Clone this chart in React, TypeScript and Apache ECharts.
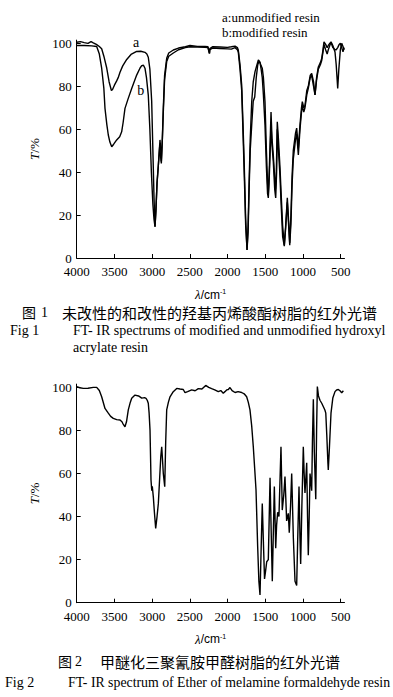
import React, { useEffect, useRef } from "react";
import * as echarts from "echarts";

// ---------- Figure 1 : curve a (unmodified resin) ----------
const wnA = [4000,3950,3900,3850,3810,3780,3740,3700,3669,3640,3602,3570,3540,3525,3500,3470,3450,3426,3390,3337,3280,3205,3150,3095,3070,3051,3030,3006,2990,2975,2962,2950,2935,2918,2905,2896,2885,2878,2865,2852,2835,2807,2780,2719,2650,2560,2498,2400,2300,2260,2245,2240,2235,2200,2100,2000,1950,1901,1870,1858,1835,1813,1795,1778,1760,1742,1728,1716,1700,1680,1660,1636,1610,1592,1575,1555,1540,1525,1504,1485,1470,1460,1448,1435,1424,1410,1394,1380,1365,1355,1341,1325,1305,1290,1270,1248,1230,1208,1195,1176,1160,1145,1129,1100,1084,1062,1040,1020,1009,990,974,950,930,905,885,860,841,820,797,770,752,735,722,700,680,665,645,629,605,576,560,540,525,505,487,470,455];
const tA = [100.5,100.8,100.3,100,100.8,100.2,99.5,98.5,97.5,94,88.5,82,78,78.5,80.5,82.5,84,86.5,89.5,92.5,94.8,96.2,96.3,95.8,95,93.5,88,73,50,28,14.6,22,35,43,50,55,50,45,55,70,85,93,95.5,96.9,97.8,98.4,99,98.6,98.5,98.4,96,95.3,97.5,98.4,98.3,98.1,98.4,98.7,98,96.9,90,80.6,62,42,18,3.7,15,33,55,72.8,82,86.8,90,92.2,91.5,89.5,88.4,84,72.8,50,35,30,40,55,68,55,48,40,32,38,63.5,55,42,30,15,6,15,28,20,7,20,38,50,58,60.5,51,62,70,72.8,70,71,78,80,85,86,82,76,84,89,91,93,97,100.7,99.5,98,99,100,100.7,99,96,90,79,88,97,100,98.5,97];

// ---------- Figure 1 : curve b (modified resin) ----------
const wnB = [4000,3900,3800,3735,3700,3669,3640,3625,3600,3581,3560,3536,3510,3470,3430,3404,3385,3360,3320,3271,3205,3160,3138,3115,3095,3075,3051,3030,3010,2990,2975,2962,2950,2935,2918,2900,2890,2878,2865,2852,2835,2807,2780,2719,2650,2560,2498,2400,2300,2260,2245,2240,2235,2200,2100,2000,1950,1901,1870,1858,1835,1813,1795,1778,1760,1742,1728,1716,1700,1680,1660,1640,1620,1600,1585,1570,1555,1540,1525,1504,1485,1470,1460,1450,1435,1424,1410,1394,1375,1362,1350,1341,1325,1305,1290,1270,1248,1230,1208,1195,1176,1160,1145,1129,1100,1084,1062,1040,1020,1009,990,974,950,930,905,885,860,841,820,797,770,752,735,722,700,680,665,645,629,605,576,560,540,520,505,487,470,455];
const tB = [99,99,98.8,98.5,95,88.4,79,69.7,62,57.3,54,51.8,53,55,56.5,58.8,63,69.7,74,79,85.2,88.5,89.6,89.8,88.4,84,75.9,60,40,25,18,14.6,22,35,43,52,48,44,55,68,83,91.5,94,95.5,97,98,98.4,98.3,98.2,98,95.8,95.3,97,97.8,97.6,97.4,97.3,98,97,96,88,78,58,38,15,3.7,12,30,50,62,73,75,84,90,91.5,91,88,84,76,62,42,30,28,35,50,62,52,45,32,28,40,60,50,38,25,10,5.5,14,26,18,6,16,34,46,55,58,48,60,68,71,68,70,76,79,84,85,80,76,83,88,90,92,96,99.5,97,95,97,99,100.5,98,97,97,98,99.5,100,98,96,98];

// ---------- Figure 2 : etherified melamine formaldehyde resin ----------
const wnC = [4000,3960,3912,3850,3780,3735,3700,3669,3640,3625,3581,3550,3515,3470,3426,3400,3390,3375,3360,3340,3316,3290,3271,3227,3180,3138,3100,3081,3065,3051,3040,3028,3015,3005,2998,2984,2970,2953,2935,2918,2900,2885,2873,2862,2852,2833,2820,2807,2785,2763,2720,2674,2630,2587,2564,2530,2476,2430,2388,2340,2290,2250,2211,2170,2123,2090,2057,2035,2012,1990,1968,1940,1901,1860,1813,1780,1747,1725,1703,1680,1659,1640,1623,1601,1585,1570,1555,1540,1525,1510,1495,1481,1460,1437,1420,1407,1392,1380,1362,1350,1336,1319,1292,1275,1255,1239,1217,1195,1182,1165,1150,1128,1106,1084,1070,1053,1040,1031,1015,996,985,974,962,951,940,930,918,907,895,885,875,863,850,831,820,810,795,775,750,730,710,698,685,670,665,650,629,605,576,555,532,510,487,465];
const tC = [100.3,99.8,99.5,99.6,100,100,98.5,95.6,92,90.2,88,86.5,85.6,85,84.8,84,83.3,82.5,81.7,84,89.5,93,94.9,96.4,96,95,95.2,94.9,94,92.6,88,80,57,52,54,49,42,34.5,40,46,58,68,72.4,66,60,53.9,75,89.5,93,95.6,98,99.5,99.2,99,97.5,98,98.8,98.4,99.4,99.2,100.9,100,99.4,98.8,98,98.5,97.3,98,98.8,99,99.9,98.5,97.6,98,97.6,97,95.6,93,89.5,82,72.4,62,52.3,26,10,3.6,25,46,28,11,15,19,20,58,30,10,35,54,25.3,36,42,40,72.4,43,50,58.6,38,41.5,32.5,45,60,30,10,8,30,54,30,18,45,72.4,60,51,58,65,40,22,40,60,56,52,75,94.5,70,48,80,100.4,96,94,92.5,91,89.5,88,78,65,61.6,72,88,95,98,98.8,99,98.4,97.5,98.4];

// ---------- axis ticks ----------
const xTicks = [4000, 3500, 3000, 2500, 2000, 1500, 1000, 500];
const yTicks = [0, 20, 40, 60, 80, 100];

// ---------- curve letters (anchored at data coordinates) ----------
const curveLetters = ["a", "b"];
const curveLetterWn = [3214, 3152];
const curveLetterT = [100.3, 78];

const pairs = (xs: number[], ys: number[]) => xs.map((x, i) => [x, ys[i]]);

const SERIF = "'Liberation Serif', 'DejaVu Serif', serif";
const CJK = "'Noto Sans CJK SC', sans-serif";

function xAxisFor(gridIndex: number) {
  return {
    type: "value",
    gridIndex,
    min: 450,
    max: 4000,
    inverse: true,
    name: "{l|λ}/cm{s|-1}",
    nameLocation: "middle",
    nameGap: 30,
    nameTextStyle: {
      rich: {
        l: { fontFamily: SERIF, fontStyle: "italic", fontSize: 13, color: "#000" },
        s: { fontFamily: "Liberation Sans", fontSize: 7, color: "#000", verticalAlign: "top" },
      },
      fontFamily: "Liberation Sans",
      fontSize: 12,
      color: "#000",
    },
    axisLine: { show: true, onZero: false, lineStyle: { color: "#000", width: 1 } },
    axisTick: { show: true, inside: true, length: 4, customValues: xTicks, lineStyle: { color: "#000" } },
    axisLabel: {
      customValues: xTicks,
      formatter: (v: number) => String(v),
      fontFamily: SERIF,
      fontSize: 13,
      color: "#000",
      margin: 7,
    },
    splitLine: { show: false },
  };
}

function yAxisFor(gridIndex: number) {
  return {
    type: "value",
    gridIndex,
    min: 0,
    max: 101.5,
    name: "{i|T}/%",
    nameLocation: "middle",
    nameRotate: 90,
    nameGap: 22,
    nameTextStyle: {
      fontFamily: SERIF,
      fontSize: 13,
      color: "#000",
      rich: { i: { fontFamily: SERIF, fontStyle: "italic", fontSize: 13, color: "#000" } },
    },
    axisLine: { show: true, onZero: false, lineStyle: { color: "#000", width: 1 } },
    axisTick: { show: true, inside: true, length: 4, customValues: yTicks, lineStyle: { color: "#000" } },
    axisLabel: {
      customValues: yTicks,
      formatter: (v: number) => String(v),
      fontFamily: SERIF,
      fontSize: 13,
      color: "#000",
      margin: 5,
    },
    splitLine: { show: false },
  };
}

const lineSeries = (name: string, data: number[][], idx: number) => ({
  name,
  type: "line",
  xAxisIndex: idx,
  yAxisIndex: idx,
  data,
  showSymbol: false,
  symbol: "none",
  color: "#000",
  lineStyle: { color: "#000", width: 1.4 },
  silent: true,
});

const text = (t: string, x: number, y: number, font: string, size: number, align = "left") => ({
  type: "text",
  x,
  y,
  style: { text: t, fontFamily: font, fontSize: size, fill: "#000", textAlign: align, textVerticalAlign: "middle" },
});

export default function App() {
  const ref = useRef<HTMLDivElement>(null);
  useEffect(() => {
    document.body.style.margin = "0";
    const chart = echarts.init(ref.current!, null, { renderer: "svg" });
    const graphics: any[] = [
      text("a:unmodified resin", 222, 17, SERIF, 13),
      text("b:modified resin", 222, 32, SERIF, 13),
      text("图", 22, 312, CJK, 14),
      text("1", 41, 312, SERIF, 14),
      text("未改性的和改性的羟基丙烯酸酯树脂的红外光谱", 62, 312, CJK, 15),
      text("Fig 1", 10, 330.5, SERIF, 14),
      text("FT- IR spectrums of modified and unmodified hydroxyl", 73, 330.5, SERIF, 14),
      text("acrylate resin", 73, 347, SERIF, 14),
      text("图", 58, 661, CJK, 14),
      text("2", 75, 661, SERIF, 14),
      text("甲醚化三聚氰胺甲醛树脂的红外光谱", 100, 661, CJK, 15),
      text("Fig 2", 5, 682, SERIF, 14),
      text("FT- IR spectrum of Ether of melamine formaldehyde resin", 68, 682, SERIF, 13.8),
    ];
    chart.setOption({
      animation: false,
      backgroundColor: "#fff",
      grid: [
        { left: 76.7, width: 267.8, top: 40.1, height: 217.9 },
        { left: 76.7, width: 267.8, top: 384.1, height: 218.6 },
      ],
      xAxis: [xAxisFor(0), xAxisFor(1)],
      yAxis: [yAxisFor(0), yAxisFor(1)],
      series: [
        lineSeries("a", pairs(wnA, tA), 0),
        lineSeries("b", pairs(wnB, tB), 0),
        lineSeries("c", pairs(wnC, tC), 1),
      ],
      graphic: graphics,
    });
    const letters = curveLetters.map((l, i) => {
      const p = chart.convertToPixel({ gridIndex: 0 }, [curveLetterWn[i], curveLetterT[i]]) as number[];
      return text(l, p[0], p[1], SERIF, 14, "center");
    });
    chart.setOption({ graphic: [...graphics, ...letters] });
    return () => chart.dispose();
  }, []);
  return <div ref={ref} style={{ position: "absolute", left: 0, top: 0, width: 393, height: 697 }} />;
}
